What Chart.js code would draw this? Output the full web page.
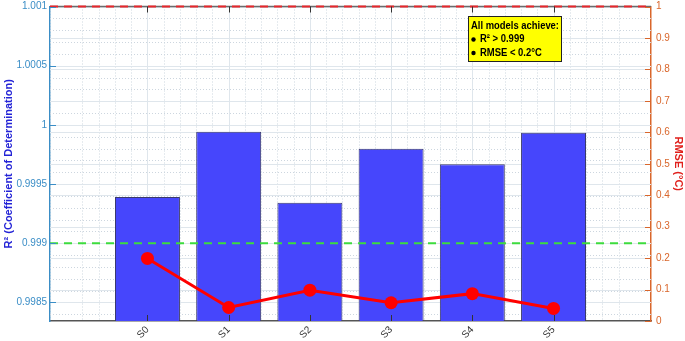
<!DOCTYPE html>
<html><head><meta charset="utf-8">
<script src="https://cdn.jsdelivr.net/npm/chart.js@4"></script>
<style>html,body{margin:0;padding:0;background:#fff;}#wrap{width:685px;height:341px;position:relative;}</style>
</head><body><div id="wrap"><canvas id="c" width="685" height="341"></canvas></div>
<script>
const categories = ['S0','S1','S2','S3','S4','S5'];
const r2Values = [0.999391, 0.999941, 0.999341, 0.999799, 0.999668, 0.999933];
const rmseValues = [0.199, 0.043, 0.098, 0.058, 0.087, 0.040];
const r2TickValues = [0.9985, 0.999, 0.9995, 1, 1.0005, 1.001];
const r2TickLabels = ['0.9985', '0.999', '0.9995', '1', '1.0005', '1.001'];
const rmseTickValues = [0, 0.1, 0.2, 0.3, 0.4, 0.5, 0.6, 0.7, 0.8, 0.9, 1];
const r2Threshold = 0.999;
const r2Top = 1.001;
const noteLines = ['All models achieve:', '\u25CF R\u00B2 > 0.999', '\u25CF RMSE < 0.2\u00B0C'];

const FONT = "'Liberation Sans', Arial, sans-serif";
const leftColor = '#3a8dc6';
const rightColor = '#d9662b';

const gridPlugin = {
  id: 'gridPlugin',
  beforeDatasetsDraw(chart) {
    const {ctx, chartArea: a, scales} = chart;
    const x = scales.x, y = scales.y, y2 = scales.y2;
    ctx.save();
    ctx.beginPath(); ctx.rect(a.left, a.top, a.right - a.left, a.bottom - a.top); ctx.clip();
    ctx.lineWidth = 1;
    ctx.strokeStyle = '#cdd6df';
    ctx.setLineDash([1, 2]);
    for (let k = -6; k <= 31; k++) {
      const v = k / 5;
      if (Math.abs(v - Math.round(v)) < 1e-9) continue;
      const px = Math.round(x.getPixelForValue(v)) + 0.5;
      ctx.beginPath(); ctx.moveTo(px, a.top); ctx.lineTo(px, a.bottom); ctx.stroke();
    }
    for (let k = 0; k <= 30; k++) {
      const v = 0.9983 + k * 0.0001;
      const py = Math.round(y.getPixelForValue(v)) + 0.5;
      if (py < a.top || py > a.bottom) continue;
      ctx.beginPath(); ctx.moveTo(a.left, py); ctx.lineTo(a.right, py); ctx.stroke();
    }
    ctx.setLineDash([]);
    ctx.strokeStyle = '#dfe6ec';
    for (let i = 0; i < categories.length; i++) {
      const px = Math.round(x.getPixelForValue(i)) + 0.5;
      ctx.beginPath(); ctx.moveTo(px, a.top); ctx.lineTo(px, a.bottom); ctx.stroke();
    }
    r2TickValues.forEach(v => {
      const py = Math.round(y.getPixelForValue(v)) + 0.5;
      ctx.beginPath(); ctx.moveTo(a.left, py); ctx.lineTo(a.right, py); ctx.stroke();
    });
    rmseTickValues.forEach(v => {
      const py = Math.round(y2.getPixelForValue(v)) + 0.5;
      ctx.beginPath(); ctx.moveTo(a.left, py); ctx.lineTo(a.right, py); ctx.stroke();
    });
    ctx.restore();
  },
  afterDatasetsDraw(chart) {
    const {ctx, chartArea: a, scales} = chart;
    const x = scales.x, y = scales.y, y2 = scales.y2;
    ctx.save();
    ctx.strokeStyle = '#6b6b6b'; ctx.lineWidth = 1.5;
    ctx.beginPath(); ctx.moveTo(a.left, a.top); ctx.lineTo(a.right, a.top); ctx.stroke();
    ctx.lineWidth = 2;
    ctx.setLineDash([8, 6]);
    ctx.strokeStyle = '#3ddc3d';
    let py = y.getPixelForValue(r2Threshold);
    ctx.beginPath(); ctx.moveTo(a.left, py); ctx.lineTo(a.right, py); ctx.stroke();
    ctx.strokeStyle = '#e8262b';
    py = y.getPixelForValue(r2Top);
    ctx.beginPath(); ctx.moveTo(a.left, py); ctx.lineTo(a.right, py); ctx.stroke();
    ctx.setLineDash([]);
    ctx.lineWidth = 1;
    ctx.strokeStyle = leftColor;
    r2TickValues.forEach(v => {
      const p = Math.round(y.getPixelForValue(v)) + 0.5;
      ctx.beginPath(); ctx.moveTo(a.left, p); ctx.lineTo(a.left + 6, p); ctx.stroke();
    });
    ctx.strokeStyle = rightColor;
    rmseTickValues.forEach(v => {
      const p = Math.round(y2.getPixelForValue(v)) + 0.5;
      ctx.beginPath(); ctx.moveTo(a.right, p); ctx.lineTo(a.right - 6, p); ctx.stroke();
    });
    ctx.strokeStyle = '#333';
    for (let i = 0; i < categories.length; i++) {
      const p = Math.round(x.getPixelForValue(i)) + 0.5;
      ctx.beginPath(); ctx.moveTo(p, a.bottom); ctx.lineTo(p, a.bottom - 6); ctx.stroke();
      ctx.beginPath(); ctx.moveTo(p, a.top); ctx.lineTo(p, a.top + 6); ctx.stroke();
    }
    ctx.restore();
  },
  afterDraw(chart) {
    const {ctx} = chart;
    ctx.save();
    const bx = 468, by = 16, bw = 93, bh = 45;
    ctx.fillStyle = '#ffff00';
    ctx.fillRect(bx, by, bw, bh);
    ctx.strokeStyle = '#222'; ctx.lineWidth = 1;
    ctx.strokeRect(bx + 0.5, by + 0.5, bw, bh);
    ctx.fillStyle = '#000';
    ctx.font = 'bold 10.5px ' + FONT;
    ctx.textBaseline = 'middle';
    ctx.textAlign = 'left';
    ctx.fillText(noteLines[0], bx + 3, by + 10, 88);
    for (let i = 1; i < noteLines.length; i++) {
      const ty = by + 10 + i * 13.5;
      ctx.beginPath(); ctx.arc(bx + 5.5, ty, 2.2, 0, Math.PI * 2); ctx.fill();
      const t = noteLines[i].slice(2);
      ctx.fillText(t, bx + 12, ty, ctx.measureText(t).width * 0.9);
    }
    ctx.restore();
  }
};

new Chart(document.getElementById('c'), {
  data: {
    datasets: [
      {
        type: 'line',
        label: 'RMSE',
        yAxisID: 'y2',
        data: rmseValues.map((v, i) => ({x: i, y: v})),
        borderColor: '#ff0000',
        backgroundColor: '#ff0000',
        borderWidth: 3,
        pointRadius: 6.5,
        pointBorderWidth: 0,
        tension: 0,
        order: 0
      },
      {
        type: 'bar',
        label: 'R2',
        yAxisID: 'y',
        data: r2Values.map((v, i) => ({x: i, y: v})),
        backgroundColor: 'rgb(70,70,252)',
        borderColor: '#3a3a6a',
        borderWidth: 1,
        borderSkipped: false,
        barPercentage: 0.8,
        categoryPercentage: 1,
        order: 1
      }
    ]
  },
  options: {
    responsive: false,
    animation: false,
    devicePixelRatio: 1,
    layout: {padding: {top: 3, left: 0, right: 0, bottom: 0}},
    plugins: {legend: {display: false}, tooltip: {enabled: false}},
    scales: {
      x: {
        type: 'linear', min: -1.2, max: 6.2, offset: false,
        afterBuildTicks: s => { s.ticks = categories.map((c, i) => ({value: i})); },
        afterFit: s => { s.height = 20; s.paddingLeft = 0; s.paddingRight = 0; },
        ticks: {
          callback: v => categories[v],
          maxRotation: 45, minRotation: 45,
          autoSkip: false,
          color: '#333', padding: 3,
          font: {family: FONT, size: 10}
        },
        grid: {display: false, drawTicks: false, offset: false},
        border: {display: true, color: '#555', width: 1.5}
      },
      y: {
        type: 'linear', position: 'left',
        min: 0.998343, max: r2Top,
        afterBuildTicks: s => { s.ticks = r2TickValues.map(v => ({value: v})); },
        afterFit: s => { s.width = 50; s.paddingTop = 0; s.paddingBottom = 0; },
        ticks: {
          callback: (v) => { const i = r2TickValues.findIndex(t => Math.abs(t - v) < 1e-9); return i >= 0 ? r2TickLabels[i] : ''; },
          color: leftColor, padding: 3,
          font: {family: FONT, size: 10}
        },
        title: {display: true, text: 'R\u00B2 (Coefficient of Determination)', color: '#2323d6',
          font: {family: FONT, size: 11, weight: 'bold'}, padding: {top: 2, bottom: 0}},
        grid: {display: false, drawTicks: false},
        border: {display: true, color: leftColor, width: 1.5}
      },
      y2: {
        type: 'linear', position: 'right',
        min: 0, max: 1,
        afterBuildTicks: s => { s.ticks = rmseTickValues.map(v => ({value: v})); },
        afterFit: s => { s.width = 34; s.paddingTop = 0; s.paddingBottom = 0; },
        ticks: {
          callback: v => String(Math.round(v * 10) / 10),
          color: rightColor, padding: 5,
          font: {family: FONT, size: 10}
        },
        title: {display: true, text: 'RMSE (\u00B0C)', color: '#e0201c',
          font: {family: FONT, size: 11, weight: 'bold'}, padding: {top: 0, bottom: 2}},
        grid: {display: false, drawTicks: false},
        border: {display: true, color: rightColor, width: 1.5}
      }
    }
  },
  plugins: [gridPlugin]
});
</script></body></html>
